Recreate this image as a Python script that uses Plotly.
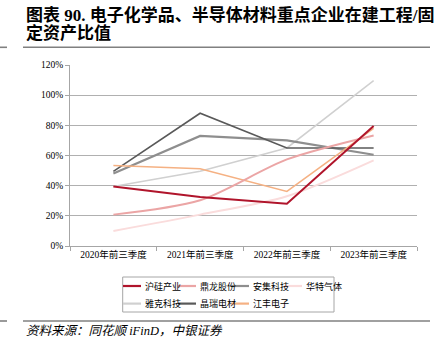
import plotly.graph_objects as go

categories = ["2020年前三季度", "2021年前三季度", "2022年前三季度", "2023年前三季度"]
names = ["沪硅产业", "鼎龙股份", "安集科技", "华特气体", "雅克科技", "晶瑞电材", "江丰电子"]
hugui = [0.395, 0.325, 0.28, 0.795]
dinglong = [0.208, 0.303, 0.574, 0.733]
anji = [0.48, 0.73, 0.70, 0.605]
huate = [0.10, 0.208, 0.33, 0.568]
yake = [0.395, 0.495, 0.65, 1.097]
jingrui = [0.495, 0.88, 0.65, 0.65]
jiangfeng = [0.534, 0.512, 0.362, 0.78]
series = [hugui, dinglong, anji, huate, yake, jingrui, jiangfeng]
colors = ["#B0142B", "#EBA5A5", "#8E8E8E", "#FADCDC", "#D0D0D0", "#595959", "#F5B183"]
widths = [2, 2, 2.2, 2, 1.5, 1.6, 1.5]
shapes_line = ["linear", "spline", "linear", "spline", "linear", "linear", "linear"]

W, H = 442, 351
L, R, T, B = 70, 417, 64.7, 245.7

def px(x):
    return (x - L) / (R - L)

def py(y):
    return (B - y) / (B - T)

fig = go.Figure()
order = [4, 2, 5, 6, 3, 1, 0]
for i in order:
    fig.add_trace(go.Scatter(
        x=categories, y=series[i], name=names[i], mode="lines",
        line=dict(color=colors[i], width=widths[i], shape=shapes_line[i], smoothing=0.8),
        showlegend=False, hoverinfo="skip"))

serif = "Liberation Serif, Noto Sans CJK SC"
shapes = []
annotations = []

# title
annotations.append(dict(xref="paper", yref="paper", x=px(24), y=py(15), xanchor="left", yanchor="middle",
                        text="<b>图表 90. 电子化学品、半导体材料重点企业在建工程/固</b>", showarrow=False,
                        font=dict(family="Liberation Serif, Noto Sans CJK SC", size=17, color="#000")))
annotations.append(dict(xref="paper", yref="paper", x=px(24), y=py(33), xanchor="left", yanchor="middle",
                        text="<b>定资产比值</b>", showarrow=False,
                        font=dict(family="Liberation Serif, Noto Sans CJK SC", size=17, color="#000")))
# separator lines
for yy in (47, 320.7):
    shapes.append(dict(type="line", xref="paper", yref="paper", x0=px(23), x1=px(430), y0=py(yy), y1=py(yy),
                       line=dict(color="#808080", width=1.6)))
    shapes.append(dict(type="line", xref="paper", yref="paper", x0=px(0), x1=px(7), y0=py(yy), y1=py(yy),
                       line=dict(color="#808080", width=1.6)))
# source
annotations.append(dict(xref="paper", yref="paper", x=px(24), y=py(330.5), xanchor="left", yanchor="middle",
                        text="<i>资料来源：同花顺 iFinD，中银证券</i>", showarrow=False,
                        font=dict(family=serif, size=12.5, color="#000")))

# legend box
shapes.append(dict(type="rect", xref="paper", yref="paper", x0=px(122.7), x1=px(334), y0=py(276.7), y1=py(311.7),
                   line=dict(color="#A6A6A6", width=1), fillcolor="rgba(0,0,0,0)"))
cols = [123, 178, 231, 284]
rows = [285.7, 303.3]
for k in range(7):
    r = k // 4
    c = k % 4
    x0 = cols[c]
    yy = rows[r]
    shapes.append(dict(type="line", xref="paper", yref="paper", x0=px(x0), x1=px(x0 + 18), y0=py(yy), y1=py(yy),
                       line=dict(color=colors[k], width=2.2)))
    annotations.append(dict(xref="paper", yref="paper", x=px(x0 + 20), y=py(yy), xanchor="left", yanchor="middle",
                            text=names[k], showarrow=False,
                            font=dict(family=serif, size=9, color="#000")))

fig.update_layout(
    width=W, height=H,
    margin=dict(l=L, r=W - R, t=T, b=H - B, pad=0),
    paper_bgcolor="white", plot_bgcolor="white",
    showlegend=False,
    xaxis=dict(type="category", tickson="boundaries", ticks="outside", ticklen=4, tickcolor="#A6A6A6",
               showline=True, linecolor="#A6A6A6", linewidth=1, showgrid=False,
               tickfont=dict(family=serif, size=9.5, color="#000"), range=[-0.5, 3.5], fixedrange=True),
    yaxis=dict(range=[0, 1.2], dtick=0.2, tickformat=".0%", ticks="outside", ticklen=4, tickcolor="#A6A6A6",
               showline=True, linecolor="#A6A6A6", linewidth=1, showgrid=True, gridcolor="#B0B0B0", gridwidth=1,
               zeroline=False, tickfont=dict(family=serif, size=9.5, color="#000"), fixedrange=True),
    shapes=shapes, annotations=annotations,
)

fig.write_html("out.html")
